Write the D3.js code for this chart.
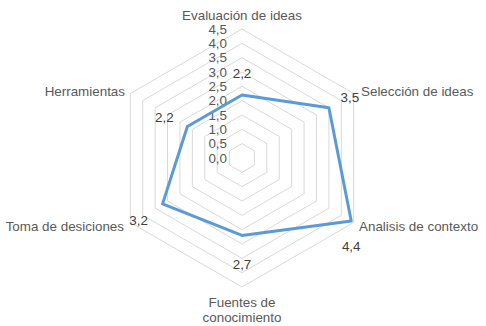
<!DOCTYPE html>
<html><head><meta charset="utf-8">
<script src="https://cdn.jsdelivr.net/npm/d3@7"></script>
<style>body{margin:0;background:#fff;} text{font-family:"Liberation Sans",Arial,sans-serif;}</style>
</head><body><svg id="c" width="486" height="326"></svg>
<script>
const categories = ["Evaluación de ideas","Selección de ideas","Analisis de contexto","Fuentes de conocimiento","Toma de desiciones","Herramientas"];
const values = [2.2, 3.5, 4.4, 2.7, 3.2, 2.2];
const valueLabels = ["2,2","3,5","4,4","2,7","3,2","2,2"];
const ticks = [0,0.5,1,1.5,2,2.5,3,3.5,4,4.5];
const tickLabels = ["0,0","0,5","1,0","1,5","2,0","2,5","3,0","3,5","4,0","4,5"];

const svg = d3.select("#c");
const cx = 242, cy = 158, R = 129;
const fs = 13.4;
const r = d3.scaleLinear().domain([0,4.5]).range([0,R]);
const n = categories.length;
const ang = i => -Math.PI/2 + i*2*Math.PI/n;
const pt = (i,v) => [cx + r(v)*Math.cos(ang(i)), cy + r(v)*Math.sin(ang(i))];

const g = svg.append("g");
ticks.slice(1).forEach(t => {
  g.append("polygon")
   .attr("points", d3.range(n).map(i => pt(i,t).join(",")).join(" "))
   .attr("fill","none").attr("stroke","#d9d9d9").attr("stroke-width",1);
});
ticks.forEach((t,k) => {
  g.append("text").attr("x",227).attr("y",cy - r(t) + 4.5)
   .attr("text-anchor","end").attr("font-size",fs).attr("fill","#595959").text(tickLabels[k]);
});

const line = d3.line().curve(d3.curveLinearClosed);
g.append("path").attr("d", line(values.map((v,i)=>pt(i,v))))
 .attr("fill","none").attr("stroke","#5b9bd5").attr("stroke-width",3).attr("stroke-linejoin","round");

// data labels
const lblOff = [[0,-21],[21,-10],[0,25],[0,29],[-24,17],[-23,-9]];
values.forEach((v,i)=>{
  const [x,y] = pt(i,v);
  g.append("text").attr("x",x+lblOff[i][0]).attr("y",y+lblOff[i][1]+4.5)
   .attr("text-anchor","middle").attr("font-size",fs).attr("fill","#404040").text(valueLabels[i]);
});

// category labels
const catPos = [
  {x:242,y:20,a:"middle",lines:["Evaluación de ideas"]},
  {x:361,y:96,a:"start",lines:["Selección de ideas"]},
  {x:359,y:231,a:"start",lines:["Analisis de contexto"]},
  {x:242,y:307,a:"middle",lines:["Fuentes de","conocimiento"]},
  {x:124,y:231,a:"end",lines:["Toma de desiciones"]},
  {x:125,y:96,a:"end",lines:["Herramientas"]}
];
catPos.forEach((p,i)=>{
  const t = g.append("text").attr("x",p.x).attr("y",p.y).attr("text-anchor",p.a)
    .attr("font-size",fs).attr("fill","#595959");
  p.lines.forEach((l,k)=> t.append("tspan").attr("x",p.x).attr("dy",k?15:0).text(l));
});
</script></body></html>
